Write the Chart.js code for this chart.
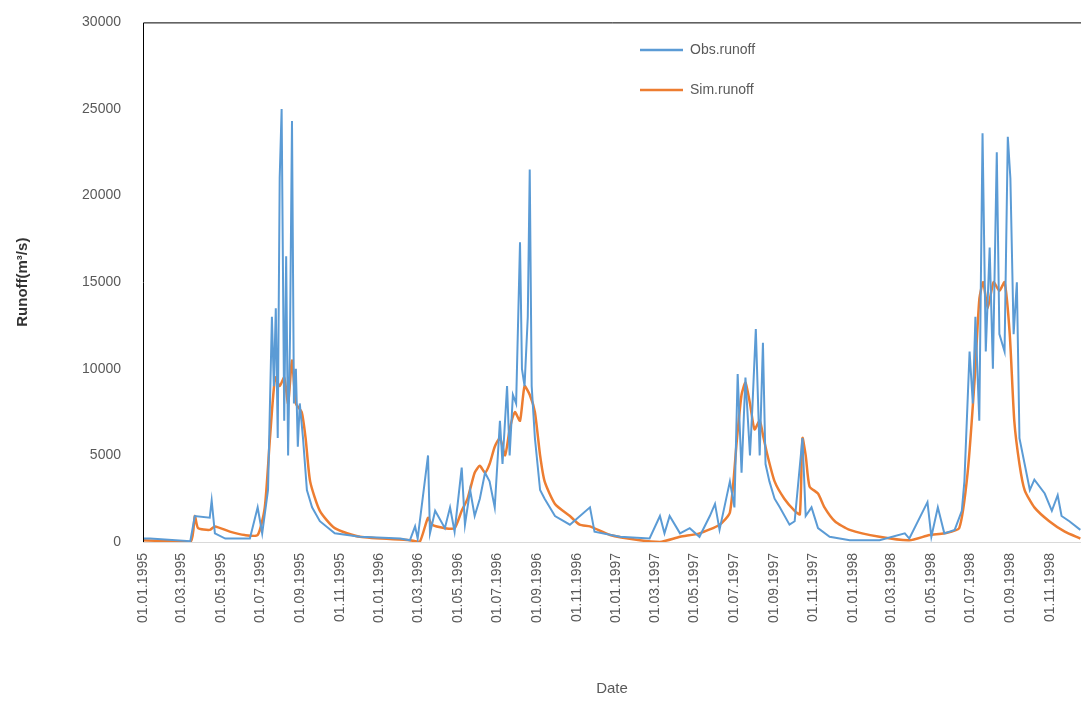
<!DOCTYPE html>
<html><head><meta charset="utf-8">
<script src="https://cdn.jsdelivr.net/npm/chart.js@4"></script>
<style>html,body{margin:0;padding:0;background:#fff}#w{width:1081px;height:702px}</style>
</head><body><div id="w"><canvas id="c"></canvas></div>
<script>
// day offsets from 01.01.1995
const obsDays=[0,11,73,80,103,106,111,127,165,177,184,193,199,202,205,208,211,214,218,221,224,227,230,233,236,239,242,247,253,261,273,296,335,397,412,420,424,440,443,451,466,474,481,492,497,505,512,520,528,535,543,551,555,562,566,571,576,582,585,589,594,597,600,605,613,620,636,659,690,697,736,782,798,805,813,829,844,859,875,883,890,906,913,918,924,930,937,941,946,952,957,961,967,975,983,998,1006,1018,1023,1032,1042,1060,1091,1137,1176,1183,1211,1217,1227,1237,1253,1264,1268,1276,1281,1285,1291,1296,1301,1307,1312,1318,1322,1330,1335,1339,1344,1349,1353,1361,1369,1376,1392,1403,1412,1418,1430,1447];
const obsValues=[200,200,50,1500,1400,2400,500,200,200,2000,500,3000,13000,9000,13500,6000,21000,25000,7000,16500,5000,12000,24300,8000,10000,5500,8000,6000,3000,2000,1200,500,300,200,100,900,200,5000,500,1800,800,2000,600,4300,1000,3000,1500,2500,4000,3500,2000,7000,4500,9000,5000,8500,8000,17300,10000,9000,13000,21500,9000,6000,3000,2500,1500,1000,2000,600,300,200,1500,500,1500,500,800,300,1500,2200,700,3500,2000,9700,4000,9500,5000,8000,12300,5000,11500,4500,3500,2500,2000,1000,1200,6000,1500,2000,800,300,100,100,500,200,2300,300,2000,500,700,1800,3500,11000,8000,13000,7000,23600,11000,17000,10000,22500,12000,11000,23400,21000,12000,15000,6000,4500,3000,3600,2800,1800,2700,1500,1200,700];
const simDays=[0,73,80,85,103,111,134,157,177,188,196,204,211,218,224,230,236,245,251,258,273,296,335,412,427,440,446,466,481,492,501,512,520,528,535,543,551,559,566,574,582,589,597,605,613,620,636,659,674,690,721,767,798,829,859,890,906,917,924,930,937,944,952,958,964,975,990,1006,1014,1018,1023,1029,1042,1052,1068,1091,1137,1183,1214,1237,1260,1273,1284,1291,1297,1304,1313,1322,1330,1338,1345,1353,1361,1376,1399,1423,1447];
const simValues=[100,0,1500,800,700,900,600,400,400,2000,6000,9500,9000,9500,8000,10500,8000,7500,6000,3500,1800,800,300,100,0,1400,1000,800,800,1800,2500,4000,4400,4000,4500,5500,6000,5000,6500,7500,7000,9000,8500,7500,5000,3500,2200,1500,1000,900,400,100,0,300,500,1000,1700,6000,8500,9200,8000,6500,7000,6000,5000,3500,2500,1800,1600,6000,5000,3200,2800,2000,1200,700,300,100,400,500,800,4000,9500,14000,15000,13500,15000,14500,15000,12000,7000,4500,3000,2000,1200,600,200];
const tickDays=[0,59,120,181,243,304,365,425,486,547,609,670,731,790,851,912,974,1035,1096,1155,1216,1277,1339,1400];
const tickLabels=["01.01.1995","01.03.1995","01.05.1995","01.07.1995","01.09.1995","01.11.1995","01.01.1996","01.03.1996","01.05.1996","01.07.1996","01.09.1996","01.11.1996","01.01.1997","01.03.1997","01.05.1997","01.07.1997","01.09.1997","01.11.1997","01.01.1998","01.03.1998","01.05.1998","01.07.1998","01.09.1998","01.11.1998"];
const seriesNames=["Obs.runoff","Sim.runoff"];
const colors=["#5b9bd5","#ed7d31"];
const pts=(d,v)=>d.map((x,i)=>({x:x,y:v[i]}));
const gray='#595959';
const deco={id:'deco',afterDraw(ch){const c=ch.ctx,a=ch.chartArea;c.save();
c.strokeStyle='#000';c.lineWidth=1;c.beginPath();c.moveTo(a.left+0.5,a.bottom);c.lineTo(a.left+0.5,a.top+0.5);c.lineTo(a.right,a.top+0.5);c.stroke();
c.beginPath();c.moveTo(a.left,a.bottom+0.5);c.lineTo(a.right,a.bottom+0.5);c.strokeStyle='#d9d9d9';c.stroke();
c.font='14px "Liberation Sans", Arial';c.textBaseline='middle';
seriesNames.forEach((n,i)=>{const y=50+i*40;c.strokeStyle=colors[i];c.lineWidth=2.5;c.beginPath();c.moveTo(640,y);c.lineTo(683,y);c.stroke();c.fillStyle=gray;c.fillText(n,690,y);});
c.restore();}};
new Chart(document.getElementById('c'),{type:'line',
data:{datasets:[{label:seriesNames[0],data:pts(obsDays,obsValues),borderColor:colors[0],borderWidth:2,pointRadius:0,tension:0},
{label:seriesNames[1],data:pts(simDays,simValues),borderColor:colors[1],borderWidth:2.5,pointRadius:0,tension:0.2}]},
options:{responsive:true,maintainAspectRatio:false,animation:false,
layout:{padding:{top:22,right:0,left:10,bottom:0}},
plugins:{legend:{display:false},tooltip:{enabled:false}},
scales:{x:{type:'linear',min:0,max:1448,grid:{display:false},border:{display:false},
afterBuildTicks(s){s.ticks=tickDays.map(v=>({value:v}));},
afterFit(s){s.height=160;},
ticks:{autoSkip:false,maxRotation:90,minRotation:90,color:gray,font:{size:14,family:'"Liberation Sans", Arial'},callback:(v)=>{const i=tickDays.indexOf(v);return i>=0?tickLabels[i]:'';}},
title:{display:true,text:'Date',color:gray,font:{size:15,family:'"Liberation Sans", Arial'},padding:{top:20}}},
y:{min:0,max:30000,grid:{display:false},border:{display:false},afterFit(s){s.width=133;},
ticks:{stepSize:5000,color:gray,padding:14,font:{size:14,family:'"Liberation Sans", Arial'},callback:v=>String(v)},
title:{display:true,text:'Runoff(m³/s)',color:'#333',font:{size:15,weight:'bold',family:'"Liberation Sans", Arial'},padding:{bottom:20}}}}},
plugins:[deco]});
</script></body></html>
